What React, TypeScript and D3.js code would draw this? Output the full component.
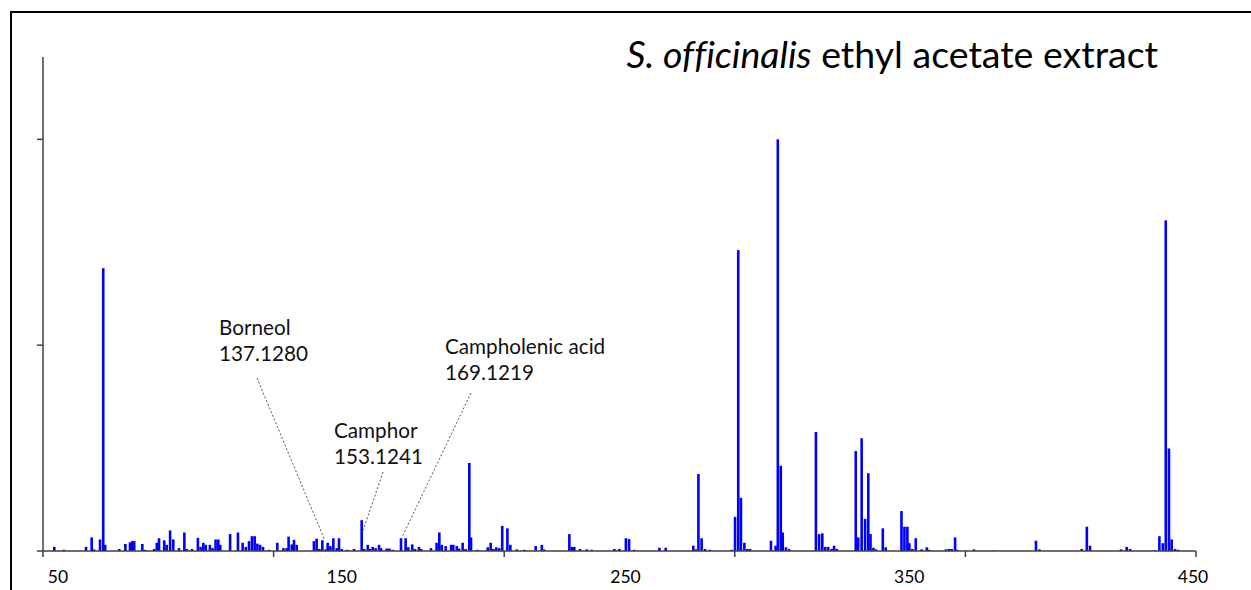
import React from "react";
import * as d3 from "d3";

// m/z of each detected ion (annotated ions carry their exact mass)
const mzValues: number[] = [
  28.1, 32.0, 41.0, 43.3, 44.2, 46.7, 48.0, 48.8, 54.5, 57.0, 58.9, 59.8, 60.6, 63.9, 65.0,
  68.7, 69.8, 70.7, 72.8, 73.8, 75.2, 76.5, 78.8, 81.0, 82.0, 84.1, 86.5, 87.6, 88.7, 89.7,
  91.4, 92.5, 93.7, 94.8, 95.6, 99.6, 102.8, 104.7, 106.0, 107.3, 108.5, 109.6, 110.7, 111.8,
  113.0, 115.4, 118.8, 121.3, 122.6, 123.4, 124.7, 125.6, 126.7, 133.7, 134.8, 135.9, 137.128,
  138.5, 139.3, 140.4, 141.6, 143.0, 143.9, 145.0, 147.3, 150.0, 153.1241, 154.2, 155.6, 156.5,
  157.6, 158.8, 160.2, 161.0, 163.3, 164.4, 165.8, 169.1219, 171.0, 172.1, 173.7, 174.8, 176.4,
  177.3, 181.3, 183.6, 184.7, 185.7, 187.3, 189.5, 190.4, 191.8, 192.7, 194.2, 195.4, 196.9,
  197.6, 200.2, 204.4, 205.6, 206.7, 207.9, 209.1, 210.3, 212.4, 213.6, 216.2, 219.3, 223.9,
  226.4, 227.3, 237.6, 238.6, 239.6, 241.9, 244.7, 246.7, 255.9, 257.9, 260.6, 261.9, 263.9,
  274.2, 276.8, 288.0, 289.0, 290.1, 291.4, 292.8, 294.8, 303.6, 305.0, 306.3, 307.4, 308.8,
  310.0, 311.1, 319.6, 321.5, 322.4, 323.6, 324.4, 325.7, 327.0, 337.9, 339.2, 340.5, 341.7,
  342.9, 344.3, 345.3, 346.4, 354.1, 355.1, 356.5, 357.9, 359.2, 360.1, 361.3, 362.3, 365.1,
  366.3, 372.7, 373.9, 375.1, 375.9, 377.1, 378.5, 380.9, 383.0, 384.0, 390.8, 392.0, 393.1,
  394.5, 395.4, 402.2, 410.1, 427.4, 428.8, 446.0, 448.1, 449.4, 462.0, 464.3, 465.7, 475.8,
  477.6, 479.0, 480.2, 481.5, 482.6, 484.0, 485.3,
];

// relative intensity (%) for each ion above
const intensities: number[] = [
  1.0, 0.3, 1.0, 3.3, 0.4, 2.8, 68.7, 1.5, 0.5, 1.7, 2.1, 2.4, 2.4, 1.7, 0.3,
  0.5, 2.0, 3.1, 2.6, 1.5, 5.0, 2.8, 0.7, 4.5, 0.5, 0.5, 3.2, 1.0, 2.0, 1.5,
  1.5, 0.7, 2.8, 2.8, 1.5, 4.1, 4.5, 2.0, 1.0, 2.4, 3.6, 3.6, 1.8, 1.5,
  1.0, 0.3, 2.0, 0.7, 0.7, 3.5, 1.6, 2.7, 1.5, 2.4, 3.0, 0.5, 2.6,
  0.4, 2.0, 1.2, 3.1, 0.7, 3.1, 0.5, 0.3, 0.5, 7.5, 0.5, 1.5, 0.5,
  1.0, 0.7, 1.5, 0.7, 0.6, 0.6, 0.3, 3.1, 3.1, 0.9, 1.6, 0.5, 1.0,
  0.5, 0.7, 2.0, 4.5, 1.5, 1.2, 1.5, 1.5, 1.2, 0.6, 2.0, 0.5, 21.4,
  3.3, 0.3, 0.9, 2.0, 0.5, 0.9, 0.7, 6.1, 5.5, 1.5, 0.4, 0.3, 1.2,
  1.5, 0.4, 4.1, 1.0, 1.0, 0.5, 0.4, 0.3, 0.5, 0.5, 3.1, 2.9, 0.3,
  0.8, 0.8, 1.3, 0.4, 18.7, 3.1, 0.5, 0.3, 0.3, 8.3, 73.1, 12.9, 2.0,
  0.5, 0.5, 2.5, 1.3, 100, 20.7, 4.5, 0.9, 0.5, 28.9, 4.1, 4.3, 1.0,
  1.0, 0.5, 1.3, 0.5, 24.3, 3.3, 27.4, 7.8, 18.9, 4.1, 0.8, 0.4, 5.5,
  0.9, 9.7, 5.9, 5.9, 1.9, 0.5, 3.1, 0.4, 0.9, 0.3, 0.4, 0.5, 0.5,
  3.3, 0.3, 0.4, 0.15, 2.5, 0.4, 0.5, 5.9, 1.3, 0.4, 1.0, 0.5, 0.2,
  3.6, 1.9, 80.3, 24.9, 2.8, 0.5, 0.3,
];

// printed x-axis labels
const xTickLabels: number[] = [50, 150, 250, 350, 450];
// unlabeled y-axis ticks
const yTickValues: number[] = [50, 100];

// named compounds
const compoundNames: string[] = ["Borneol", "Camphor", "Campholenic acid"];
const compoundMz: number[] = [137.128, 153.1241, 169.1219];
const compoundMzText: string[] = ["137.1280", "153.1241", "169.1219"];

const W = 1251;
const H = 590;
const FONT = "Lato, 'Open Sans', sans-serif";

// label block placement for each compound: text left/top baseline, leader start, leader end offset
const calloutLayout = [
  { tx: 219, ty: 335, lx: 257, ly: 378, ex: 2.5, ey: 0 },
  { tx: 334, ty: 438, lx: 383, ly: 472, ex: 1.5, ey: 10 },
  { tx: 445, ty: 354, lx: 471, ly: 393, ex: 1, ey: -1 },
];

export default function App() {
  const plotLeft = 43;
  const plotRight = 1196;
  const baseY = 551;

  const x = d3.scaleLinear().domain([23.5, 492.5]).range([plotLeft, plotRight]);
  const y = d3.scaleLinear().domain([0, 120]).range([baseY, 57]);
  // positions of the printed numbers along the axis
  const xLabel = d3.scaleLinear().domain([50, 450]).range([58, 1193]);
  // evenly spaced tick marks along the axis
  const xTickMark = d3.scaleLinear().domain([0, 5]).range([plotLeft, plotRight]);

  const barW = 2.6;
  const axisColor = "#404040";

  return (
    <svg
      width={W}
      height={H}
      viewBox={`0 0 ${W} ${H}`}
      style={{ position: "absolute", left: 0, top: 0, background: "#fff" }}
    >
      <rect x={11} y={12} width={W + 10} height={H + 10} fill="#fff" stroke="#000" strokeWidth={2} />

      {/* title */}
      <text
        x={1158}
        y={68}
        textAnchor="end"
        fontFamily={FONT}
        fontSize={37.5}
        fill="#000"
        style={{ fontVariantLigatures: "none" }}
      >
        <tspan fontStyle="italic">S. officinalis</tspan>
        <tspan> ethyl acetate extract</tspan>
      </text>

      {/* bars */}
      <g fill="#0000ff">
        {mzValues.map((m, i) => (
          <rect
            key={i}
            x={x(m) - barW / 2}
            y={y(intensities[i])}
            width={barW}
            height={Math.max(0.5, baseY - y(intensities[i]))}
          />
        ))}
      </g>

      {/* axes */}
      <g stroke={axisColor} strokeWidth={1.5}>
        <line x1={plotLeft} x2={plotLeft} y1={y(y.domain()[1])} y2={baseY + 6} />
        {yTickValues.map((t) => (
          <line key={t} x1={plotLeft - 6} x2={plotLeft} y1={y(t)} y2={y(t)} />
        ))}
        <line x1={plotLeft - 6} x2={plotRight} y1={baseY} y2={baseY} />
        {d3.range(1, 6).map((k) => (
          <line key={k} x1={xTickMark(k)} x2={xTickMark(k)} y1={baseY} y2={baseY + 6} />
        ))}
      </g>

      {/* x labels */}
      <g fontFamily={FONT} fontSize={17.5} fill="#000" textAnchor="middle">
        {xTickLabels.map((t) => (
          <text key={t} x={xLabel(t)} y={583}>
            {t}
          </text>
        ))}
      </g>

      {/* compound callouts */}
      {compoundNames.map((name, i) => {
        const L = calloutLayout[i];
        const idx = mzValues.indexOf(compoundMz[i]);
        const bx = x(compoundMz[i]) + L.ex;
        const by = y(intensities[idx]) + L.ey;
        return (
          <g key={name}>
            <line
              x1={L.lx}
              y1={L.ly}
              x2={bx}
              y2={by}
              stroke="#555"
              strokeWidth={1}
              strokeDasharray="2,2"
            />
            <text x={L.tx} y={L.ty} fontFamily={FONT} fontSize={20.7} fill="#111">
              {name}
            </text>
            <text x={L.tx} y={L.ty + 26} fontFamily={FONT} fontSize={20.7} fill="#111">
              {compoundMzText[i]}
            </text>
          </g>
        );
      })}
    </svg>
  );
}
